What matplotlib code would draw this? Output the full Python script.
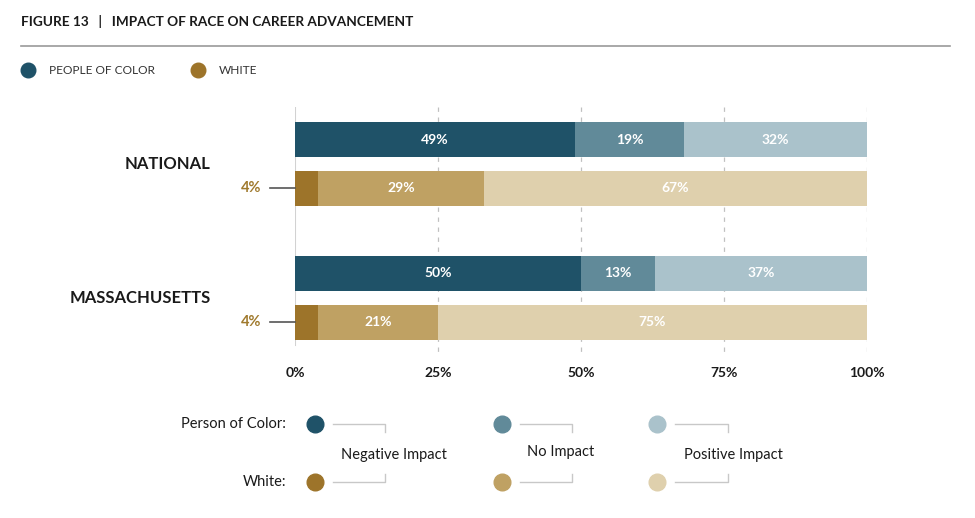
import matplotlib.pyplot as plt
from matplotlib.lines import Line2D

plt.rcParams['font.family'] = ['Lato', 'DejaVu Sans']

regions = ["NATIONAL", "MASSACHUSETTS"]
impacts = ["Negative Impact", "No Impact", "Positive Impact"]
poc_values = [[49, 19, 32], [50, 13, 37]]
white_values = [[4, 29, 67], [4, 21, 75]]
ticks = [0, 25, 50, 75, 100]
tick_labels = ["0%", "25%", "50%", "75%", "100%"]

poc_colors = ["#1f5268", "#618a99", "#aac2cb"]
white_colors = ["#9d742a", "#bfa163", "#dfd0ad"]
dark = "#1a1a1a"

W, H = 975, 518
fig = plt.figure(figsize=(W / 100, H / 100), dpi=100)


def fx(px):
    return px / W


def fy(py):
    return 1 - py / H


# main axes: y in pixel units (top->bottom)
ax = fig.add_axes((fx(295), fy(355), fx(867) - fx(295), fy(107) - fy(355)))
ax.set_xlim(0, 100)
ax.set_ylim(355, 107)
ax.axis("off")

row_gap = 49
group_gap = 134
top = 139.5
bar_h = 35

for t in ticks[1:]:
    ax.plot([t, t], [107, 355], color="#c0c0c0", lw=0.9, ls=(0, (3.5, 4.5)), zorder=0)
ax.plot([0, 0], [107, 345], color="#d2d2d2", lw=1.5, zorder=0)

for g, region in enumerate(regions):
    for r, (vals, cols) in enumerate([(poc_values[g], poc_colors),
                                       (white_values[g], white_colors)]):
        y = top + g * group_gap + r * row_gap
        left = 0
        for v, c in zip(vals, cols):
            ax.barh(y, v, left=left, height=bar_h, color=c, zorder=2)
            if v > 5:
                ax.text(left + v / 2, y, f"{v}%", ha="center", va="center",
                        color="white", fontsize=10, fontweight="bold", zorder=3)
            left += v
        if r == 1:
            # small first segment labelled outside with leader line
            ax.plot([-4.4, 0], [y, y], color="#555555", lw=1.2, clip_on=False)
            ax.text(-5.8, y, f"{vals[0]}%", ha="right", va="center",
                    color="#a07a2e", fontsize=10.5, fontweight="bold")
    yc = top + g * group_gap + row_gap / 2
    ax.text(-14.7, yc, region, ha="right", va="center", color=dark,
            fontsize=12, fontweight="bold")

for t, lab in zip(ticks, tick_labels):
    ax.text(t, 373, lab, ha="center", va="center", color=dark,
            fontsize=10, fontweight="bold")

# header
fig.text(fx(21), fy(22), "FIGURE 13   |   IMPACT OF RACE ON CAREER ADVANCEMENT",
         ha="left", va="center", fontsize=9.8, fontweight="bold", color=dark)
fig.add_artist(Line2D([fx(21), fx(950)], [fy(46), fy(46)], color="#9a9a9a", lw=1.2))

# top legend
for cx, col, lab in [(28, poc_colors[0], "PEOPLE OF COLOR"), (198, white_colors[0], "WHITE")]:
    fig.add_artist(Line2D([fx(cx)], [fy(70)], marker="o", ms=10.5, color=col, mec=col))
    fig.text(fx(cx + 21), fy(70), lab, ha="left", va="center", fontsize=8.6, color="#333333")

# bottom legend
fig.text(fx(286), fy(424), "Person of Color:", ha="right", va="center", fontsize=10.5, color=dark)
fig.text(fx(286), fy(482), "White:", ha="right", va="center", fontsize=10.5, color=dark)
leg_x = [315, 502, 657]
bracket_x = [385, 572, 728]
label_x = [394, 561, 733]
label_y = [455, 452, 455]
for i, lab in enumerate(impacts):
    cx = leg_x[i]
    for cy, col, sgn in [(424, poc_colors[i], 1), (482, white_colors[i], -1)]:
        fig.add_artist(Line2D([fx(cx)], [fy(cy)], marker="o", ms=12, color=col, mec=col))
        fig.add_artist(Line2D([fx(cx + 18), fx(bracket_x[i]), fx(bracket_x[i])],
                              [fy(cy), fy(cy), fy(cy + sgn * 8)],
                              color="#c8c8c8", lw=1))
    fig.text(fx(label_x[i]), fy(label_y[i]), lab, ha="center", va="center",
             fontsize=10.5, color=dark)

fig.savefig("out.png", dpi=100)
